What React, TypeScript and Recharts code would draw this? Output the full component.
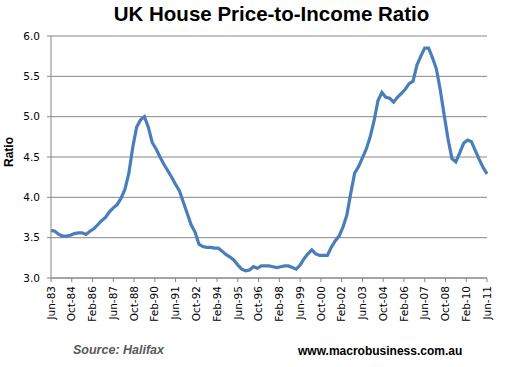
import { LineChart, Line, XAxis, YAxis, CartesianGrid } from "recharts";

// quarterly readings, Jun-83 .. Jun-11
const ratio = [
  3.59, 3.58, 3.54, 3.52, 3.52, 3.53, 3.55, 3.56, 3.56, 3.54, 3.58, 3.61,
  3.66, 3.71, 3.75, 3.82, 3.87, 3.91, 3.99, 4.1, 4.3, 4.62, 4.87, 4.96,
  5.0, 4.87, 4.68, 4.6, 4.5, 4.41, 4.33, 4.25, 4.16, 4.08, 3.94, 3.8,
  3.66, 3.57, 3.42, 3.39, 3.38, 3.38, 3.37, 3.37, 3.33, 3.29, 3.26, 3.22,
  3.16, 3.11, 3.09, 3.1, 3.14, 3.12, 3.15, 3.15, 3.15, 3.14, 3.13, 3.14,
  3.15, 3.15, 3.13, 3.11, 3.16, 3.24, 3.3, 3.35, 3.3, 3.28, 3.28, 3.28,
  3.38, 3.46, 3.52, 3.63, 3.78, 4.05, 4.3, 4.38, 4.49, 4.6, 4.75, 4.95,
  5.2, 5.3, 5.24, 5.23, 5.18, 5.24, 5.29, 5.34, 5.41, 5.44, 5.64, 5.75,
  5.85, 5.85, 5.73, 5.59, 5.33, 5.02, 4.72, 4.48, 4.44, 4.55, 4.67, 4.71,
  4.69, 4.58, 4.47, 4.37, 4.29,
];

const tickLabels = [
  "Jun-83", "Oct-84", "Feb-86", "Jun-87", "Oct-88", "Feb-90", "Jun-91",
  "Oct-92", "Feb-94", "Jun-95", "Oct-96", "Feb-98", "Jun-99", "Oct-00",
  "Feb-02", "Jun-03", "Oct-04", "Feb-06", "Jun-07", "Oct-08", "Feb-10",
  "Jun-11",
];

const yTicks = [3.0, 3.5, 4.0, 4.5, 5.0, 5.5, 6.0];

// months since Jun-83
const data = ratio.map((r, i) => ({ m: i * 3, ratio: r }));
const xTicks = tickLabels.map((_, i) => i * 16);

const tickFont = "'DejaVu Sans', Verdana, sans-serif";

const XTick = (props: any) => {
  const { x, y, payload } = props;
  const label = tickLabels[Math.round(payload.value / 16)];
  return (
    <text
      x={x}
      y={y}
      transform={`rotate(-90 ${x} ${y})`}
      textAnchor="end"
      dy="0.35em"
      fontSize={10.5}
      fontFamily={tickFont}
      fill="#000"
    >
      {label}
    </text>
  );
};

const App = () => {
  return (
    <div
      style={{
        position: "absolute",
        left: 0,
        top: 0,
        width: 505,
        height: 367,
        background: "#fff",
        fontFamily: "'Liberation Sans', Arial, sans-serif",
      }}
    >
      <div
        style={{
          position: "absolute",
          left: 0,
          width: 505,
          top: 2,
          textAlign: "center",
          fontSize: 20.5,
          fontWeight: "bold",
          paddingLeft: 38,
          boxSizing: "border-box",
        }}
      >
        UK House Price-to-Income Ratio
      </div>
      <div
        style={{
          position: "absolute",
          left: 9,
          top: 152,
          transform: "translate(-50%, -50%) rotate(-90deg)",
          fontSize: 12,
          fontWeight: "bold",
        }}
      >
        Ratio
      </div>
      <LineChart
        width={505}
        height={367}
        data={data}
        margin={{ top: 36, right: 18, bottom: 39, left: 0 }}
      >
        <CartesianGrid vertical={false} stroke="#868686" strokeWidth={1} />
        <XAxis
          dataKey="m"
          type="number"
          domain={[0, 336]}
          ticks={xTicks}
          interval={0}
          height={50}
          tick={<XTick />}
          tickSize={4}
          tickMargin={4}
          stroke="#868686"
        />
        <YAxis
          domain={[3, 6]}
          ticks={yTicks}
          width={51}
          tickSize={4}
          tickMargin={7}
          stroke="#868686"
          tickFormatter={(v: number) => v.toFixed(1)}
          tick={{ fill: "#000", fontSize: 10.5, fontFamily: tickFont }}
        />
        <Line
          type="linear"
          dataKey="ratio"
          stroke="#4a7ebb"
          strokeWidth={3.2}
          dot={false}
          isAnimationActive={false}
        />
      </LineChart>
      <div
        style={{
          position: "absolute",
          left: 73,
          top: 343,
          fontSize: 12.5,
          fontWeight: "bold",
          fontStyle: "italic",
          color: "#595959",
        }}
      >
        Source: Halifax
      </div>
      <div
        style={{
          position: "absolute",
          left: 298,
          top: 344,
          fontSize: 12,
          fontWeight: "bold",
          color: "#000",
        }}
      >
        www.macrobusiness.com.au
      </div>
    </div>
  );
};

export default App;
